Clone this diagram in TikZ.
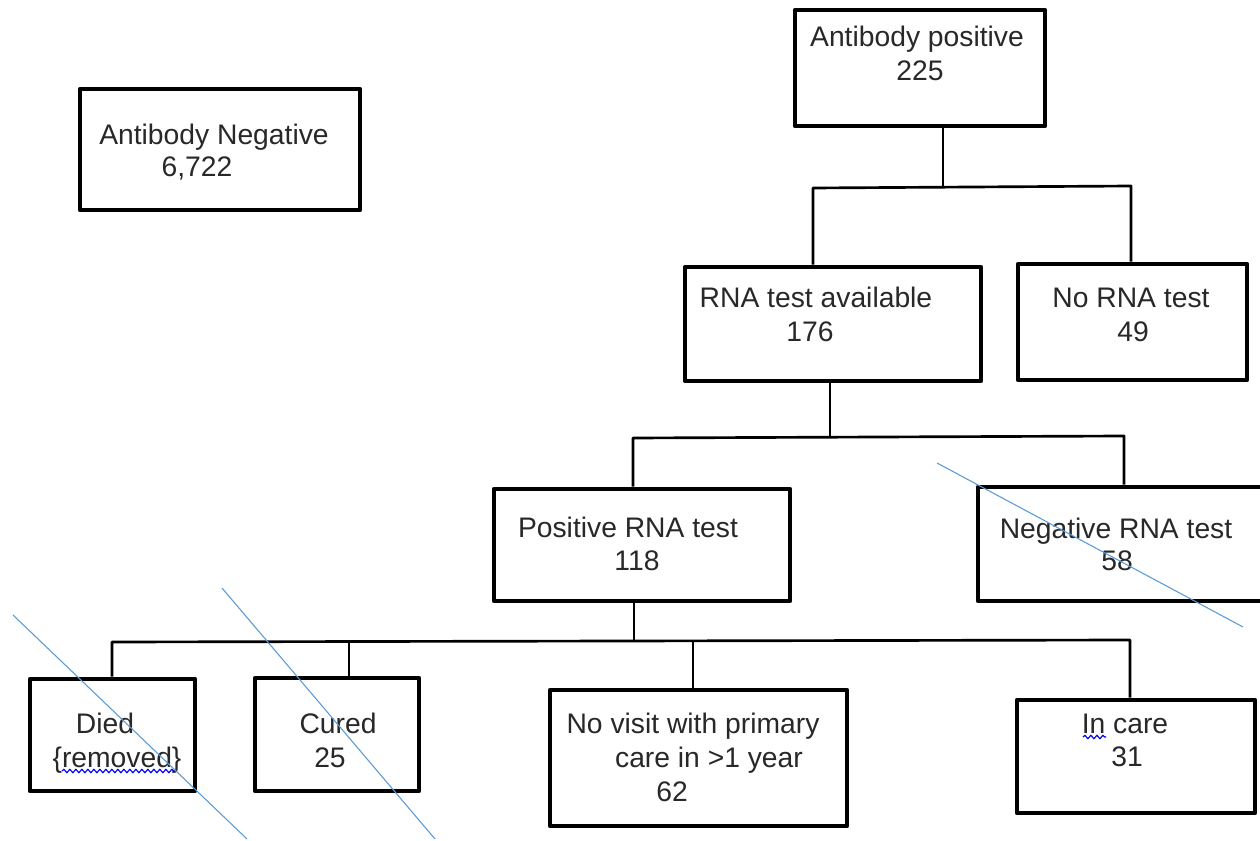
\documentclass[tikz,border=0pt]{standalone}
\usepackage{fontspec}
\setmainfont{Liberation Sans}
\usetikzlibrary{decorations.pathmorphing}
\definecolor{strike}{RGB}{91,155,213}
\definecolor{txt}{RGB}{40,40,40}
\tikzset{
  box/.style={draw=black, line width=3.4pt, fill=white, rectangle, inner sep=0pt, line join=round},
  bw/.style={minimum width={#1*0.75pt}},
  bh/.style={minimum height={#1*0.75pt}},
  lbl/.style={anchor=base, inner sep=0pt, text=txt, font=\fontsize{21.2}{25}\selectfont},
  conn/.style={draw=black, line width=2pt, line join=round},
  strikeline/.style={draw=strike, line width=0.8pt},
  wavy/.style={draw=blue, line width=0.9pt, decorate, decoration={snake, amplitude=1.2, segment length=4.5}}
}
\begin{document}
\begin{tikzpicture}[x=0.75pt, y=-0.75pt]
\useasboundingbox (0,0) rectangle (1260,841);
\clip (0,0) rectangle (1260,841);
\fill[white] (0,0) rectangle (1260,841);

% boxes
\node[box, bw=250, bh=116] (ap) at (920,68) {};
\node[box, bw=280, bh=121] (an) at (220,149.5) {};
\node[box, bw=296, bh=114] (rna) at (833,324) {};
\node[box, bw=229, bh=116] (norna) at (1132.5,322) {};
\node[box, bw=296, bh=112] (pos) at (642,545) {};
\node[box, bw=300, bh=114] (neg) at (1128,544) {};
\node[box, bw=165, bh=112] (died) at (112.5,735) {};
\node[box, bw=164, bh=113] (cured) at (337,734.5) {};
\node[box, bw=297, bh=136] (novisit) at (698.5,758) {};
\node[box, bw=238, bh=113] (incare) at (1136,756.5) {};

% junction points
\coordinate (t1) at (943,187);
\coordinate (t1L) at (813,188);
\coordinate (t1R) at (1131,186);
\coordinate (t2) at (830,437);
\coordinate (t2L) at (633,438);
\coordinate (t2R) at (1124,436);
\coordinate (t3) at (634,641);
\coordinate (t3a) at (112,642);
\coordinate (t3b) at (349,642);
\coordinate (t3c) at (693,641);
\coordinate (t3d) at (1130,640);

% connectors
\draw[conn] (ap.south -| t1) -- (t1);
\draw[conn] (rna.north -| t1L) -- (t1L) -- (t1R) -- (norna.north -| t1R);
\draw[conn] (rna.south -| t2) -- (t2);
\draw[conn] (pos.north -| t2L) -- (t2L) -- (t2R) -- (neg.north -| t2R);
\draw[conn] (pos.south -| t3) -- (t3);
\draw[conn] (died.north -| t3a) -- (t3a) -- (t3d) -- (incare.north -| t3d);
\draw[conn] (t3b) -- (cured.north -| t3b);
\draw[conn] (t3c) -- (novisit.north -| t3c);

% texts
\node[lbl] (ap1) at (917,47) {Antibody positive};
\node[lbl] (ap2) at (920,81) {225};
\node[lbl] (an1) at (214,145) {Antibody Negative};
\node[lbl] (an2) at (197,177) {6,722};
\node[lbl] (rna1) at (816,308) {RNA test available};
\node[lbl] (rna2) at (810,342) {176};
\node[lbl] (norna1) at (1131,308) {No RNA test};
\node[lbl] (norna2) at (1133,342) {49};
\node[lbl] (pos1) at (628,537) {Positive RNA test};
\node[lbl] (pos2) at (637,570) {118};
\node[lbl] (neg1) at (1116,538) {Negative RNA test};
\node[lbl] (neg2) at (1117,570) {58};
\node[lbl] (died1) at (105,733) {Died};
\node[lbl] (died2) at (117,767) {\{removed\}};
\node[lbl] (cured1) at (338,733) {Cured};
\node[lbl] (cured2) at (330,767) {25};
\node[lbl] (nv1) at (693,733) {No visit with primary};
\node[lbl] (nv2) at (709,767) {care in >1 year};
\node[lbl] (nv3) at (672,801) {62};
\node[lbl] (ic1) at (1125,733) {In care};
\node[lbl] (ic2) at (1127,766) {31};

% spell-check underlines
\coordinate (w1a) at (62,771);
\coordinate (w1b) at (176,771);
\coordinate (w2a) at (1083,737);
\coordinate (w2b) at (1106,737);
\draw[wavy] (w1a) -- (w1b);
\draw[wavy] (w2a) -- (w2b);

% strike-through lines
\coordinate (s1a) at (13,615);
\coordinate (s1b) at (247,839);
\coordinate (s2a) at (222,588);
\coordinate (s2b) at (435,839);
\coordinate (s3a) at (937,463);
\coordinate (s3b) at (1243,627);
\draw[strikeline] (s1a) -- (s1b);
\draw[strikeline] (s2a) -- (s2b);
\draw[strikeline] (s3a) -- (s3b);
\end{tikzpicture}
\end{document}
